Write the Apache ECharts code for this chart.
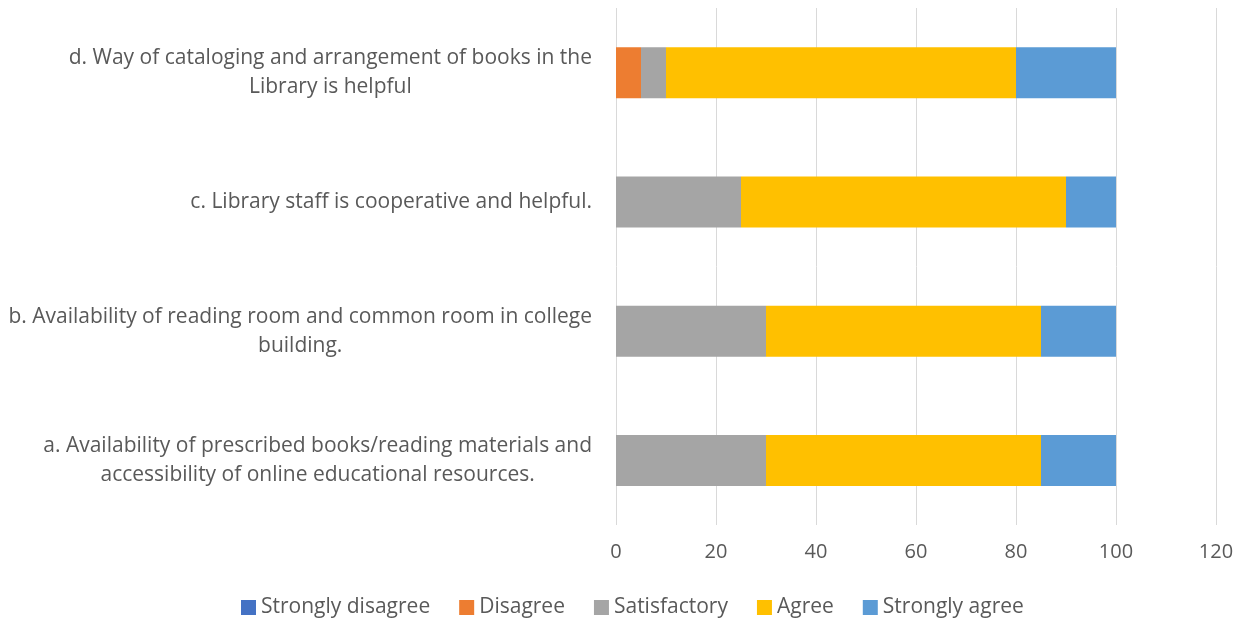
<!DOCTYPE html>
<html>
<head>
<meta charset="utf-8">
<script src="https://cdn.jsdelivr.net/npm/echarts@6/dist/echarts.min.js"></script>
<style>html,body{margin:0;padding:0;background:#fff}#c{width:1242px;height:623px}</style>
</head>
<body>
<div id="c"></div>
<script>
const categories = [
  "a. Availability of prescribed books/reading materials and\naccessibility of online educational resources.",
  "b. Availability of reading room and common room in college\nbuilding.",
  "c. Library staff is cooperative and helpful.",
  "d. Way of cataloging and arrangement of books in the\nLibrary is helpful"
];
const seriesNames = ["Strongly disagree", "Disagree", "Satisfactory", "Agree", "Strongly agree"];
const stronglyDisagree = [0, 0, 0, 0];
const disagree = [0, 0, 0, 5];
const satisfactory = [30, 30, 25, 5];
const agree = [55, 55, 65, 70];
const stronglyAgree = [15, 15, 10, 20];
const colors = ["#4472C4", "#ED7D31", "#A5A5A5", "#FFC000", "#5B9BD5"];
const FONT = "Open Sans";

const values = [stronglyDisagree, disagree, satisfactory, agree, stronglyAgree];
const chart = echarts.init(document.getElementById('c'));
chart.setOption({
  animation: false,
  textStyle: { fontFamily: FONT },
  grid: { left: 616, right: 26, top: 8, bottom: 98, containLabel: false },
  legend: {
    data: seriesNames,
    bottom: 0,
    left: 236,
    itemWidth: 15,
    itemHeight: 15,
    itemGap: 29,
    icon: 'rect',
    textStyle: { fontSize: 21, color: '#595959', fontFamily: FONT, padding: [0, 0, 0, 0] }
  },
  xAxis: {
    type: 'value',
    min: 0, max: 120, interval: 20,
    axisLine: { show: false },
    axisTick: { show: false },
    splitLine: { lineStyle: { color: '#D9D9D9', width: 1 } },
    axisLabel: { fontSize: 20, color: '#595959', margin: 17, fontFamily: FONT }
  },
  yAxis: {
    type: 'category',
    data: categories,
    axisLine: { show: false },
    axisTick: { show: false },
    axisLabel: {
      margin: 24,
      align: 'right',
      formatter: function (v) { return v.split('\n').map(s => '{t|' + s + '}').join('\n'); },
      rich: { t: { fontSize: 21, color: '#595959', lineHeight: 29, align: 'center', fontFamily: FONT } }
    }
  },
  series: seriesNames.map((n, i) => ({
    name: n,
    type: 'bar',
    stack: 'total',
    barWidth: 51,
    itemStyle: { color: colors[i] },
    data: values[i]
  }))
});
</script>
</body>
</html>
